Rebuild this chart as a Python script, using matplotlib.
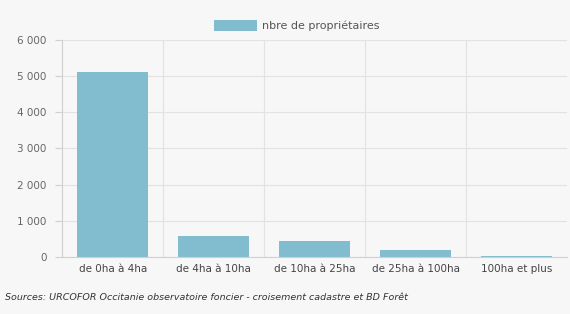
import matplotlib.pyplot as plt
from matplotlib.ticker import FuncFormatter

categories = ["de 0ha à 4ha", "de 4ha à 10ha", "de 10ha à 25ha", "de 25ha à 100ha", "100ha et plus"]
proprietaires = [5110, 580, 440, 190, 15]
series_label = "nbre de propriétaires"
source = "Sources: URCOFOR Occitanie observatoire foncier - croisement cadastre et BD Forêt"

bg = "#f7f7f7"
fig = plt.figure(figsize=(5.7, 3.14), dpi=100, facecolor=bg)
ax = fig.add_axes([0.109, 0.182, 0.886, 0.691], facecolor=bg)

x = range(len(categories))
ax.bar(x, proprietaires, width=0.7, color="#82bccf", zorder=2, label=series_label)

ax.set_xlim(-0.5, len(categories) - 0.5)
ax.set_ylim(0, 6000)
ax.set_yticks(range(0, 6001, 1000))
ax.yaxis.set_major_formatter(FuncFormatter(lambda v, p: f"{int(v):,}".replace(",", " ")))
ax.set_xticks(list(x))
ax.set_xticklabels(categories)

# vertical grid at category boundaries
for b in [i + 0.5 for i in range(len(categories) - 1)]:
    ax.axvline(b, color="#e2e2e2", lw=0.8, zorder=0)
ax.yaxis.grid(True, color="#e2e2e2", lw=0.8, zorder=0)

for s in ["top", "right"]:
    ax.spines[s].set_visible(False)
ax.spines["left"].set_color("#d0d0d0")
ax.spines["bottom"].set_color("#d0d0d0")
ax.tick_params(axis="y", labelsize=7.5, colors="#666666", length=5, pad=6)
ax.tick_params(axis="x", labelsize=7.5, colors="#444444", length=0, pad=5)
ax.tick_params(axis="y", color="#d0d0d0")

leg = ax.legend(loc="lower center", bbox_to_anchor=(0.465, 0.995),
                frameon=False, fontsize=8, handlelength=3.8, handleheight=1.1,
                handletextpad=0.5)
for t in leg.get_texts():
    t.set_color("#555555")

fig.text(0.008, 0.045, source, fontsize=6.8, style="italic", color="#333333")

fig.savefig("out.png", dpi=100, facecolor=bg)
